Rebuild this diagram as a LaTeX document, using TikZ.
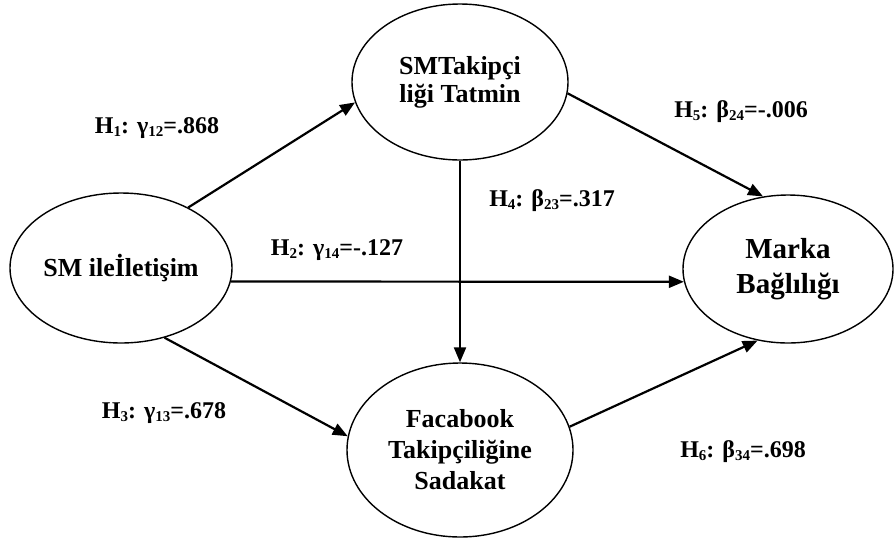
\documentclass[tikz,border=0pt]{standalone}
\usepackage{fontspec}
\setmainfont{Liberation Serif}
\usetikzlibrary{shapes.geometric,arrows.meta}
\newcommand{\lowsub}[1]{\raisebox{-0.28ex}{\fontsize{15pt}{15pt}\selectfont #1}}
\tikzset{
  construct/.style={ellipse, draw, line width=1.4pt, inner sep=0pt, align=center, font=\bfseries},
  path/.style={line width=2.2pt, -{Triangle[length=15pt,width=12pt]}},
  coef/.style={font=\fontsize{24pt}{26pt}\selectfont\bfseries, inner sep=0pt}
}
\begin{document}
\begin{tikzpicture}[x=1pt,y=-1pt]
\useasboundingbox (0,0) rectangle (896,542);
% constructs
\node[construct, minimum width=222pt, minimum height=150pt,
      font=\fontsize{26pt}{28pt}\selectfont\bfseries] (sm) at (121,268) {SM ileİletişim};
\node[construct, minimum width=216pt, minimum height=156pt,
      font=\fontsize{26pt}{28pt}\selectfont\bfseries] (tk) at (460,82) {SMTakipçi\\liği Tatmin};
\node[construct, minimum width=226pt, minimum height=174pt,
      font=\fontsize{26pt}{31pt}\selectfont\bfseries] (fb) at (460,450) {Facabook\\Takipçiliğine\\Sadakat};
\node[construct, minimum width=210pt, minimum height=148pt,
      font=\fontsize{29pt}{35pt}\selectfont\bfseries] (mb) at (788,269) {Marka\\Bağlılığı};
% structural paths
\draw[path] (sm.42) -- (tk.191);
\draw[path] (sm.-7) -- (mb.187);
\draw[path] (sm.-58) -- (fb.173);
\draw[path] (tk) -- (fb);
\draw[path] (tk.-6) -- (mb.109);
\draw[path] (fb.12) -- (mb.247);
% path coefficients
\node[coef] (h1) at (157,128) {H\lowsub{1}: γ\lowsub{12}=.868};
\node[coef] (h2) at (337,250) {H\lowsub{2}: γ\lowsub{14}=-.127};
\node[coef] (h3) at (164,413) {H\lowsub{3}: γ\lowsub{13}=.678};
\node[coef] (h4) at (552,201) {H\lowsub{4}: β\lowsub{23}=.317};
\node[coef] (h5) at (741,112) {H\lowsub{5}: β\lowsub{24}=-.006};
\node[coef] (h6) at (743,452) {H\lowsub{6}: β\lowsub{34}=.698};
\end{tikzpicture}
\end{document}
